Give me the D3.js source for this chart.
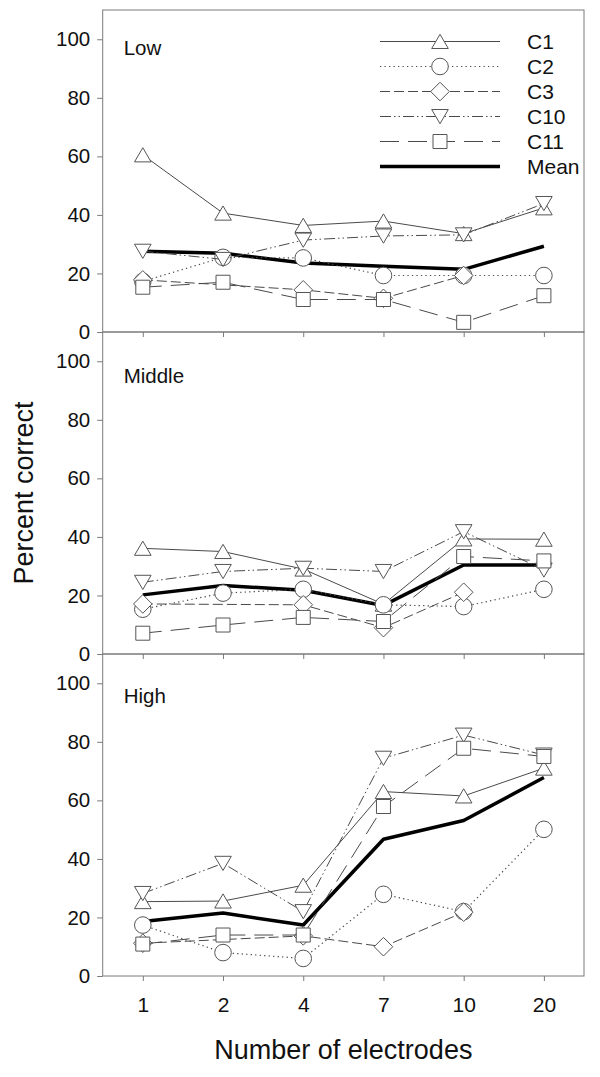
<!DOCTYPE html>
<html>
<head>
<meta charset="utf-8">
<script src="https://cdn.jsdelivr.net/npm/d3@7"></script>
<style>
  html, body { margin: 0; padding: 0; background: #fff; }
  svg { display: block; font-family: "Liberation Sans", Arial, sans-serif; }
</style>
</head>
<body>
<svg id="chart" width="600" height="1077"></svg>
<script>
// ---------------- data ----------------
const categories = ["1", "2", "4", "7", "10", "20"];
const yTicks = [0, 20, 40, 60, 80, 100];
const panelNames = ["Low", "Middle", "High"];
const seriesNames = ["C1", "C2", "C3", "C10", "C11", "Mean"];

// Low
const lowC1   = [60.5, 40.6, 36.4, 37.9, 33.6, 42.4];
const lowC2   = [17.3, 25.5, 25.3, 19.3, 19.3, 19.3];
const lowC3   = [17.8, null, 14.4, 11.5, 19.3, null];
const lowC10  = [27.6, 24.8, 31.4, 32.8, 33.2, 43.9];
const lowC11  = [15.3, 17.0, 11.1, 11.1, 3.3, 12.4];
const lowMean = [27.6, 26.9, 23.6, 22.5, 21.4, 29.3];

// Middle
const midC1   = [36.1, 35.0, 29.0, 17.0, 39.3, 39.2];
const midC2   = [15.3, 20.8, 22.1, 16.8, 16.2, 22.1];
const midC3   = [17.1, null, 16.8, 9.0, 21.1, null];
const midC10  = [24.5, 28.2, 29.3, 28.2, 41.8, 28.7];
const midC11  = [7.1, 9.9, 12.5, 11.1, 33.3, 31.8];
const midMean = [20.2, 23.4, 21.8, 16.6, 30.4, 30.4];

// High
const highC1   = [25.4, 25.6, 31.0, 63.0, 61.5, 71.0];
const highC2   = [17.4, 8.0, 6.0, 27.9, 22.0, 50.1];
const highC3   = [11.2, null, 13.7, 10.0, 21.8, null];
const highC10  = [28.2, 38.5, 22.0, 74.4, 82.3, 75.5];
const highC11  = [10.9, 14.0, 14.0, 57.9, 77.8, 75.0];
const highMean = [18.6, 21.5, 17.4, 46.7, 53.1, 67.8];

const panelData = [
  [lowC1, lowC2, lowC3, lowC10, lowC11, lowMean],
  [midC1, midC2, midC3, midC10, midC11, midMean],
  [highC1, highC2, highC3, highC10, highC11, highMean]
];

// ---------------- styles ----------------
const lineColor = "#4a4a4a";
const markColor = "#555";
const frameColor = "#7a7a7a";
const styles = {
  C1:   { dash: null,                 width: 1,   marker: "triUp" },
  C2:   { dash: "1.3,3.2",            width: 1.2, marker: "circle" },
  C3:   { dash: "10,4",               width: 1,   marker: "diamond" },
  C10:  { dash: "11,3,1.5,3,1.5,3",   width: 1,   marker: "triDown" },
  C11:  { dash: "19,9",               width: 1,   marker: "square" },
  Mean: { dash: null,                 width: 3.5, marker: null }
};

function markerPath(type) {
  switch (type) {
    case "triUp":   return "M-8.3,7L8.3,7L0,-7.2Z";
    case "triDown": return "M-8.3,-7L8.3,-7L0,7.2Z";
    case "square":  return "M-7,-7L7,-7L7,7L-7,7Z";
    case "diamond": return "M0,-9.3L9.3,0L0,9.3L-9.3,0Z";
    case "circle":  return d3.symbol(d3.symbolCircle, Math.PI * 8.3 * 8.3)();
  }
  return null;
}

// ---------------- layout ----------------
const svg = d3.select("#chart");
const left = 102.7, right = 584;
const panelTops = [10, 332, 654];
const panelH = 322;
const labelOffsets = [45, 51, 49];

const x = d3.scalePoint().domain(categories).range([left, right]).padding(0.5);

panelData.forEach((series, pi) => {
  const top = panelTops[pi];
  const y = d3.scaleLinear().domain([0, 110]).range([top + panelH, top]);
  const g = svg.append("g");

  // y axis
  const ya = g.append("g").attr("transform", `translate(${left},0)`)
    .call(d3.axisLeft(y).tickValues(yTicks).tickSize(5.5).tickPadding(7));
  ya.select(".domain").remove();
  ya.selectAll("line").attr("stroke", frameColor);
  ya.selectAll("text").attr("font-size", 20.5).attr("fill", "#111")
    .attr("font-family", "Liberation Sans, Arial, sans-serif");

  // x axis
  const xa = g.append("g").attr("transform", `translate(0,${top + panelH})`)
    .call(d3.axisBottom(x).tickSize(5).tickPadding(16));
  xa.select(".domain").remove();
  xa.selectAll("line").attr("stroke", frameColor);
  if (pi === 2) {
    xa.selectAll("text").attr("font-size", 21).attr("fill", "#111")
      .attr("font-family", "Liberation Sans, Arial, sans-serif");
  } else {
    xa.selectAll("text").remove();
  }

  // frame
  g.append("rect").attr("x", left).attr("y", top)
    .attr("width", right - left).attr("height", panelH)
    .attr("fill", "none").attr("stroke", frameColor).attr("stroke-width", 1);

  // panel label
  g.append("text").attr("x", left + 21).attr("y", top + labelOffsets[pi])
    .attr("font-size", 20.5).attr("fill", "#111").text(panelNames[pi]);

  // mean first (underneath)
  const order = [5, 0, 1, 2, 3, 4];
  order.forEach(si => {
    const name = seriesNames[si];
    const st = styles[name];
    const pts = series[si].map((v, i) => ({ c: categories[i], v }))
      .filter(d => d.v !== null);
    const line = d3.line().x(d => x(d.c)).y(d => y(d.v));
    g.append("path").datum(pts)
      .attr("d", line)
      .attr("fill", "none")
      .attr("stroke", name === "Mean" ? "#000" : lineColor)
      .attr("stroke-width", st.width)
      .attr("stroke-dasharray", st.dash)
      .attr("stroke-linejoin", "round");
    if (st.marker) {
      g.selectAll(null).data(pts).enter().append("path")
        .attr("d", markerPath(st.marker))
        .attr("transform", d => `translate(${x(d.c)},${y(d.v)})`)
        .attr("fill", "#fff").attr("stroke", markColor).attr("stroke-width", 1);
    }
  });
});

// legend (top panel)
const legend = svg.append("g");
seriesNames.forEach((name, i) => {
  const st = styles[name];
  const ly = 41.5 + i * 25;
  legend.append("line").attr("x1", 380).attr("x2", 500).attr("y1", ly).attr("y2", ly)
    .attr("stroke", name === "Mean" ? "#000" : lineColor)
    .attr("stroke-width", st.width)
    .attr("stroke-dasharray", st.dash);
  if (st.marker) {
    legend.append("path").attr("d", markerPath(st.marker))
      .attr("transform", `translate(440,${ly})`)
      .attr("fill", "#fff").attr("stroke", markColor).attr("stroke-width", 1);
  }
  legend.append("text").attr("x", 527).attr("y", ly).attr("dy", "0.36em")
    .attr("font-size", 21).attr("fill", "#111").text(name);
});

// axis titles
svg.append("text").attr("x", (left + right) / 2).attr("y", 1059)
  .attr("text-anchor", "middle").attr("font-size", 27).attr("fill", "#111")
  .text("Number of electrodes");
svg.append("text")
  .attr("transform", `translate(33,${(panelTops[0] + panelTops[2] + panelH) / 2}) rotate(-90)`)
  .attr("text-anchor", "middle").attr("font-size", 27).attr("fill", "#111")
  .text("Percent correct");
</script>
</body>
</html>
